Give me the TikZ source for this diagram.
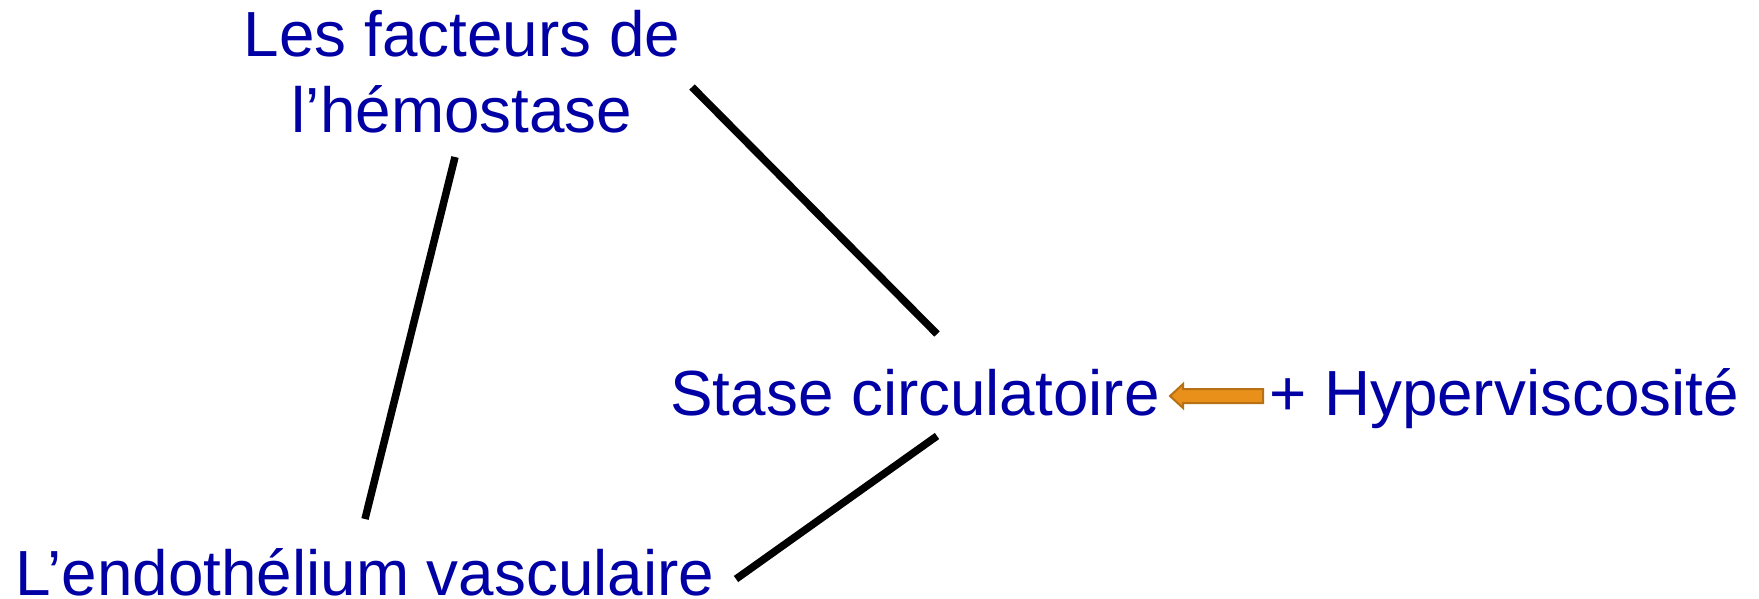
\documentclass[tikz,border=0pt]{standalone}
\usepackage{fontspec}
\setmainfont{Liberation Sans}
\definecolor{txtblue}{RGB}{0,0,165}
\definecolor{arrfill}{RGB}{232,144,26}
\definecolor{arrline}{RGB}{184,112,20}
\begin{document}
\begin{tikzpicture}[x=1pt,y=-1pt,
  lbl/.style={text=txtblue, font=\fontsize{63.8}{75}\selectfont, inner sep=0pt, anchor=base},
  conn/.style={line width=7.5pt, draw=black},
  blockarrow/.style={fill=arrfill, draw=arrline, line width=2pt, line join=miter}]
\useasboundingbox (0,0) rectangle (1759,599);
\node[lbl, align=center] (fac) at (462,132) {Les facteurs de\\l’hémostase};
\node[lbl] (endo) at (365,595) {L’endothélium vasculaire};
\node[lbl] (stase) at (915,415) {Stase circulatoire};
\node[lbl] (hyper) at (1504,415) {+ Hyperviscosité};
\coordinate (l1a) at (455,157);
\coordinate (l1b) at (365,519);
\coordinate (l2a) at (692,87);
\coordinate (l2b) at (937,334);
\coordinate (l3a) at (937,436);
\coordinate (l3b) at (736,579);
\draw[conn] (l1a) -- (l1b);
\draw[conn] (l2a) -- (l2b);
\draw[conn] (l3a) -- (l3b);
\coordinate (tip) at (1170,396);
\draw[blockarrow] (tip) -- ++(13,-12) -- ++(0,5) -- ++(80,0) -- ++(0,14) -- ++(-80,0) -- ++(0,5) -- cycle;
\end{tikzpicture}
\end{document}
